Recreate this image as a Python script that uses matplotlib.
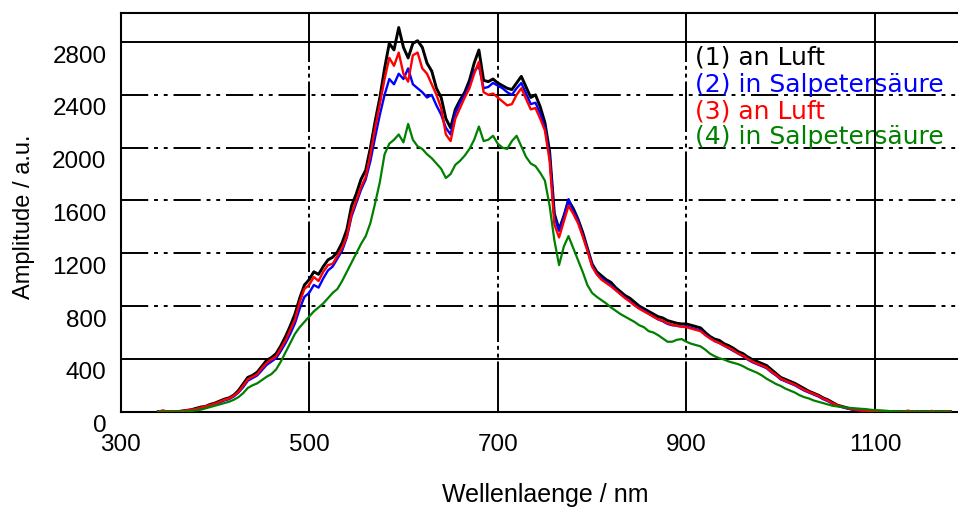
import numpy as np
import matplotlib
matplotlib.use("Agg")
import matplotlib.pyplot as plt
from matplotlib.transforms import ScaledTranslation

# Wavelength grid (nm), 5 nm steps
wavelength = np.arange(340, 1185, 5)

# (1) an Luft
amp_1 = [
    0, 0, 0, 0, 0, 5, 10, 15, 25, 35,                       # 340-385
    40, 55, 65, 80, 95, 105, 125, 160, 210, 260,            # 390-435
    275, 300, 345, 390, 410, 440, 500, 570, 650, 740,       # 440-485
    860, 960, 1000, 1060, 1040, 1100, 1150, 1170, 1210, 1280,   # 490-535
    1380, 1560, 1650, 1760, 1830, 2000, 2200, 2380, 2600, 2790, # 540-585
    2740, 2910, 2760, 2680, 2790, 2810, 2760, 2640, 2580, 2450, # 590-635
    2380, 2220, 2150, 2290, 2360, 2420, 2510, 2640, 2740, 2510, # 640-685
    2500, 2520, 2490, 2470, 2450, 2440, 2490, 2540, 2460, 2380, # 690-735
    2400, 2310, 2190, 1970, 1500, 1380, 1480, 1600, 1540, 1460, # 740-785
    1360, 1240, 1120, 1060, 1030, 1000, 980, 940, 910, 880,     # 790-835
    860, 830, 800, 780, 760, 740, 720, 710, 690, 680,           # 840-885
    670, 665, 665, 655, 645, 635, 600, 570, 550, 540,           # 890-935
    515, 500, 480, 455, 440, 415, 395, 380, 365, 350,           # 940-985
    320, 290, 260, 245, 230, 215, 195, 175, 155, 140,           # 990-1035
    125, 105, 90, 70, 50, 40, 30, 20, 15, 10,                   # 1040-1085
    8, 5, 5, 3, 2, 0, 0, 0, 0, 0,                               # 1090-1135
    0, 0, 0, 0, 0, 0, 0, 0, 0,                                  # 1140-1180
]

# (2) in Salpetersäure
amp_2 = [
    0, 0, 0, 0, 0, 0, 5, 10, 20, 28,
    38, 48, 58, 70, 85, 95, 115, 145, 185, 235,
    255, 275, 315, 355, 380, 405, 460, 520, 590, 670,
    780, 870, 900, 960, 940, 1010, 1070, 1100, 1160, 1220,
    1320, 1480, 1580, 1680, 1760, 1900, 2080, 2250, 2400, 2520,
    2480, 2560, 2520, 2600, 2480, 2450, 2420, 2380, 2400, 2320,
    2250, 2150, 2100, 2260, 2340, 2400, 2470, 2580, 2620, 2450,
    2460, 2490, 2470, 2450, 2420, 2400, 2450, 2490, 2410, 2330,
    2340, 2260, 2150, 1940, 1480, 1370, 1470, 1610, 1520, 1450,
    1340, 1230, 1110, 1045, 1010, 985, 960, 925, 895, 865,
    840, 810, 785, 765, 745, 720, 700, 685, 665, 655,
    650, 645, 645, 635, 625, 615, 585, 560, 535, 520,
    500, 480, 460, 440, 420, 395, 375, 360, 345, 330,
    300, 275, 245, 230, 215, 200, 180, 160, 145, 130,
    115, 95, 80, 60, 45, 35, 25, 18, 12, 8,
    5, 3, 2, 0, 0, 0, 0, 0, 0, 0,
    0, 0, 0, 0, 0, 0, 0, 0, 0,
]

# (3) an Luft
amp_3 = [
    0, 10, 0, 5, 0, 5, 10, 15, 20, 30,
    40, 50, 60, 75, 90, 100, 120, 150, 195, 245,
    265, 285, 330, 370, 395, 420, 480, 540, 620, 700,
    830, 930, 960, 1020, 990, 1060, 1110, 1120, 1180, 1240,
    1330, 1500, 1600, 1700, 1780, 1950, 2150, 2330, 2520, 2680,
    2620, 2720, 2560, 2500, 2700, 2720, 2600, 2560, 2480, 2400,
    2300, 2100, 2050, 2220, 2300, 2380, 2450, 2560, 2650, 2420,
    2400, 2410, 2380, 2350, 2320, 2330, 2400, 2450, 2370, 2290,
    2300, 2220, 2130, 1900, 1420, 1320, 1440, 1560, 1500, 1430,
    1330, 1220, 1100, 1040, 1000, 975, 950, 920, 890, 860,
    835, 805, 780, 760, 740, 720, 700, 690, 670, 660,
    650, 645, 640, 630, 620, 610, 580, 555, 535, 520,
    500, 485, 465, 440, 425, 400, 380, 365, 350, 335,
    305, 280, 250, 235, 220, 205, 185, 165, 150, 135,
    120, 100, 85, 65, 48, 38, 28, 20, 15, 10,
    8, 5, 5, 3, 2, 0, 5, 0, 0, 8,
    0, 5, 0, 0, 6, 0, 0, 5, 0,
]

# (4) in Salpetersäure
amp_4 = [
    0, 0, 0, 0, 0, 0, 0, 5, 10, 15,
    25, 35, 45, 55, 65, 75, 90, 110, 140, 180,
    200, 215, 240, 265, 285, 320, 380, 450, 520, 590,
    640, 680, 720, 760, 790, 820, 860, 900, 930, 990,
    1060, 1130, 1200, 1270, 1330, 1430, 1580, 1740, 1950, 2030,
    2060, 2100, 2040, 2180, 2060, 2010, 1990, 1950, 1920, 1880,
    1840, 1770, 1800, 1870, 1900, 1940, 1990, 2060, 2160, 2050,
    2060, 2090, 2030, 2000, 1990, 2050, 2090, 2010, 1930, 1880,
    1860, 1810, 1750, 1560, 1300, 1110, 1250, 1330, 1240, 1150,
    1060, 960, 900, 870, 845, 820, 790, 765, 740, 720,
    700, 680, 655, 640, 610, 600, 580, 555, 530, 530,
    545, 550, 530, 515, 505, 495, 470, 440, 420, 405,
    395, 380, 370, 360, 345, 325, 310, 295, 275, 250,
    230, 210, 195, 175, 160, 145, 125, 110, 100, 85,
    75, 65, 55, 45, 40, 35, 30, 28, 25, 22,
    20, 15, 12, 10, 8, 5, 3, 0, 0, 0,
    0, 0, 0, 0, 0, 0, 0, 0, 0,
]

series_labels = ["(1) an Luft", "(2) in Salpetersäure", "(3) an Luft", "(4) in Salpetersäure"]
series_colors = ["#000000", "#0000ff", "#ff0000", "#008000"]
series_widths = [2.1, 1.7, 1.7, 1.6]

x_ticks = [300, 500, 700, 900, 1100]
y_ticks = [0, 400, 800, 1200, 1600, 2000, 2400, 2800]

W, H, DPI = 958, 510, 100
fig = plt.figure(figsize=(W / DPI, H / DPI), dpi=DPI)
ax_l, ax_r, ax_t, ax_b = 120.5, 958, 14, 412.7
ax = fig.add_axes([ax_l / W, 1 - ax_b / H, (ax_r - ax_l) / W, (ax_b - ax_t) / H])

tick_font = dict(family="Liberation Sans", size=17.5)

# grid: a few solid lines, the rest long dash / dot / dot
h_pattern = (0, (14, 3, 2, 3, 2, 3))
v_pattern = (0, (26, 2, 2, 2, 2, 2))
for y in y_ticks[1:]:
    ls = "-" if y in (400, 2800) else h_pattern
    ax.axhline(y, color="black", lw=1.4, ls=ls, zorder=1)
for x in x_ticks[1:]:
    ls = "-" if x == 1100 else v_pattern
    ax.axvline(x, color="black", lw=1.4, ls=ls, zorder=1)

# spectra: (1) first, then (2), (3), (4)
for vals, col, lw in zip([amp_1, amp_2, amp_3, amp_4], series_colors, series_widths):
    ax.plot(wavelength, vals, color=col, lw=lw, zorder=3)

ax.set_xlim(302, 1188)
ax.set_ylim(0, 3020)
ax.set_xticks(x_ticks)
ax.set_yticks(y_ticks)
ax.set_xticklabels([str(v) for v in x_ticks], **tick_font)
ax.set_yticklabels([str(v) for v in y_ticks], **tick_font)
ax.tick_params(axis="both", length=0)
ax.tick_params(axis="x", pad=15)
ax.tick_params(axis="y", pad=10)
shift = ScaledTranslation(0, -11 / DPI, fig.dpi_scale_trans)
for lab in ax.get_yticklabels():
    lab.set_transform(lab.get_transform() + shift)

for side in ("left", "bottom", "top"):
    ax.spines[side].set_linewidth(1.5)
ax.spines["right"].set_visible(False)

fig.text(545 / W, 1 - 495 / H, "Wellenlaenge / nm", ha="center", va="center",
         family="Liberation Sans", size=18)
fig.text(24 / W, 1 - 217 / H, "Amplitude / a.u.", ha="center", va="center",
         rotation=90, family="Liberation Sans", size=17)

legend_rows = [58, 85, 111, 137]
for lab, col, yy in zip(series_labels, series_colors, legend_rows):
    fig.text(695 / W, 1 - yy / H, lab, color=col, ha="left", va="center",
             family="DejaVu Sans", size=18)

fig.savefig("out.png", dpi=DPI)
